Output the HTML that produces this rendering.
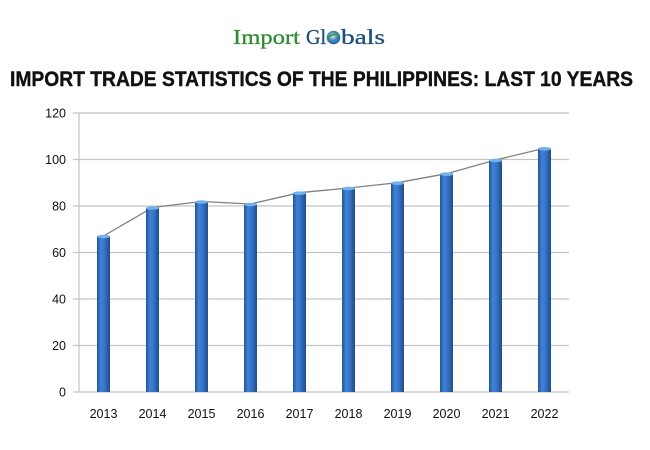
<!DOCTYPE html>
<html>
<head>
<meta charset="utf-8">
<style>
  html, body { margin:0; padding:0; background:#ffffff; }
  body { width:650px; height:450px; overflow:hidden; }
  svg { display:block; }
</style>
</head>
<body>
<svg width="650" height="450" viewBox="0 0 650 450" xmlns="http://www.w3.org/2000/svg">
  <defs>
    <linearGradient id="bar" x1="0" y1="0" x2="1" y2="0">
      <stop offset="0" stop-color="#22548f"/>
      <stop offset="0.3" stop-color="#3f82d8"/>
      <stop offset="0.55" stop-color="#3777cc"/>
      <stop offset="1" stop-color="#1f4c88"/>
    </linearGradient>
    <radialGradient id="globe" cx="0.45" cy="0.4" r="0.6">
      <stop offset="0" stop-color="#d8eef8"/>
      <stop offset="0.5" stop-color="#4a90c0"/>
      <stop offset="1" stop-color="#1d5a8a"/>
    </radialGradient>
  </defs>

  <!-- Logo -->
  <text x="233" y="44" font-family="'Liberation Serif', serif" font-size="21" fill="#2f8a34" stroke="#2f8a34" stroke-width="0.3" textLength="67" lengthAdjust="spacingAndGlyphs">Import</text>
  <text x="306" y="44" font-family="'Liberation Serif', serif" font-size="21" fill="#1f4e79" stroke="#1f4e79" stroke-width="0.3" textLength="20" lengthAdjust="spacingAndGlyphs">Gl</text>
  <circle cx="333.5" cy="37.5" r="6.8" fill="url(#globe)"/>
  <path d="M327.5 38 Q333 33 339.5 35" stroke="#3a9a3a" stroke-width="1.6" fill="none"/>
  <path d="M328 41 Q334 44.5 339.5 39" stroke="#2e7fb8" stroke-width="1.2" fill="none"/>
  <text x="341" y="44" font-family="'Liberation Serif', serif" font-size="21" fill="#1f4e79" stroke="#1f4e79" stroke-width="0.3" textLength="44" lengthAdjust="spacingAndGlyphs">bals</text>

  <!-- Title -->
  <text x="10" y="86" font-family="'Liberation Sans', sans-serif" font-weight="bold" font-size="21.5" fill="#111111" stroke="#111111" stroke-width="0.4" textLength="623" lengthAdjust="spacingAndGlyphs">IMPORT TRADE STATISTICS OF THE PHILIPPINES: LAST 10 YEARS</text>

  <!-- Gridlines -->
  <g stroke="#c4c4c4" stroke-width="1.2">
    <line x1="73" y1="113" x2="569" y2="113"/>
    <line x1="73" y1="159.5" x2="569" y2="159.5"/>
    <line x1="73" y1="206" x2="569" y2="206"/>
    <line x1="73" y1="252.5" x2="569" y2="252.5"/>
    <line x1="73" y1="299" x2="569" y2="299"/>
    <line x1="73" y1="345.5" x2="569" y2="345.5"/>
    <line x1="73" y1="392" x2="569" y2="392"/>
    <line x1="79" y1="113" x2="79" y2="392"/>
  </g>

  <!-- Y labels -->
  <g font-family="'Liberation Sans', sans-serif" font-size="12.5" fill="#111" text-anchor="end">
    <text x="66" y="117.5">120</text>
    <text x="66" y="164">100</text>
    <text x="66" y="210.5">80</text>
    <text x="66" y="257">60</text>
    <text x="66" y="303.5">40</text>
    <text x="66" y="350">20</text>
    <text x="66" y="396.5">0</text>
  </g>

  <!-- Line series -->
  <polyline fill="none" stroke="#808080" stroke-width="1.3"
    points="103.5,236 152.5,207.5 201.5,201.5 250.5,204 299.5,192.7 348.5,188 397.5,182.7 446.5,173.7 495.5,160 544.5,148.3"/>

  <!-- Bars -->
  <g>
    <rect x="97" y="236" width="13" height="156" fill="url(#bar)"/>
    <rect x="146" y="207.5" width="13" height="184.5" fill="url(#bar)"/>
    <rect x="195" y="201.5" width="13" height="190.5" fill="url(#bar)"/>
    <rect x="244" y="204" width="13" height="188" fill="url(#bar)"/>
    <rect x="293" y="192.7" width="13" height="199.3" fill="url(#bar)"/>
    <rect x="342" y="188" width="13" height="204" fill="url(#bar)"/>
    <rect x="391" y="182.7" width="13" height="209.3" fill="url(#bar)"/>
    <rect x="440" y="173.7" width="13" height="218.3" fill="url(#bar)"/>
    <rect x="489" y="160" width="13" height="232" fill="url(#bar)"/>
    <rect x="538" y="148.3" width="13" height="243.7" fill="url(#bar)"/>
  </g>
  <g fill="#74b0ec">
    <ellipse cx="103.5" cy="236.5" rx="6.5" ry="1.8"/>
    <ellipse cx="152.5" cy="208" rx="6.5" ry="1.8"/>
    <ellipse cx="201.5" cy="202" rx="6.5" ry="1.8"/>
    <ellipse cx="250.5" cy="204.5" rx="6.5" ry="1.8"/>
    <ellipse cx="299.5" cy="193.2" rx="6.5" ry="1.8"/>
    <ellipse cx="348.5" cy="188.5" rx="6.5" ry="1.8"/>
    <ellipse cx="397.5" cy="183.2" rx="6.5" ry="1.8"/>
    <ellipse cx="446.5" cy="174.2" rx="6.5" ry="1.8"/>
    <ellipse cx="495.5" cy="160.5" rx="6.5" ry="1.8"/>
    <ellipse cx="544.5" cy="148.8" rx="6.5" ry="1.8"/>
  </g>

  <!-- X labels -->
  <g font-family="'Liberation Sans', sans-serif" font-size="12.5" fill="#111" text-anchor="middle">
    <text x="103.5" y="418">2013</text>
    <text x="152.5" y="418">2014</text>
    <text x="201.5" y="418">2015</text>
    <text x="250.5" y="418">2016</text>
    <text x="299.5" y="418">2017</text>
    <text x="348.5" y="418">2018</text>
    <text x="397.5" y="418">2019</text>
    <text x="446.5" y="418">2020</text>
    <text x="495.5" y="418">2021</text>
    <text x="544.5" y="418">2022</text>
  </g>
</svg>
</body>
</html>
